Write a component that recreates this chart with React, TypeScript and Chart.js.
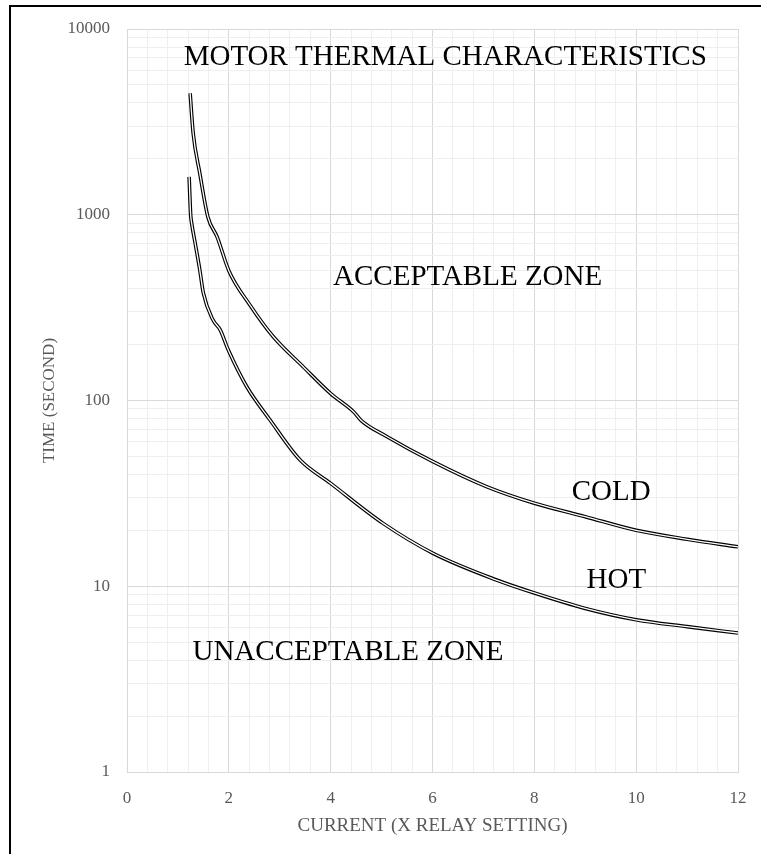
import React, { useEffect, useRef } from 'react';
import { Chart, registerables } from 'chart.js';

Chart.register(...registerables);

const coldCurrent = [1.24, 1.3, 1.43, 1.59, 1.77, 2.0, 2.42, 2.87, 3.46, 4.0, 4.45, 4.6, 5.1, 6.0, 7.06, 8.0, 9.0, 10.0, 11.0, 12.0];
const coldTime = [4500, 2740, 1670, 970, 760, 500, 325, 221, 152, 109, 87, 78, 64, 47, 34.4, 28, 23.7, 20, 17.9, 16.3];

const hotCurrent = [1.22, 1.25, 1.27, 1.34, 1.43, 1.5, 1.69, 1.83, 1.99, 2.35, 2.81, 3.4, 4.0, 5.03, 6.02, 7.26, 8.0, 9.0, 10.0, 11.0, 12.0];
const hotTime = [1600, 1000, 900, 700, 504, 378, 271, 240, 187, 119, 78.5, 47.8, 35.8, 21.8, 15.0, 10.8, 9.2, 7.6, 6.6, 6.06, 5.6];

const xTicks = [0, 0.4, 0.8, 1.2, 1.6, 2, 2.4, 2.8, 3.2, 3.6, 4, 4.4, 4.8, 5.2, 5.6, 6, 6.4, 6.8, 7.2, 7.6, 8, 8.4, 8.8, 9.2, 9.6, 10, 10.4, 10.8, 11.2, 11.6, 12];
const xLabels = [0, 2, 4, 6, 8, 10, 12];
const yTicks = [1, 2, 3, 4, 5, 6, 7, 8, 9, 10, 20, 30, 40, 50, 60, 70, 80, 90, 100, 200, 300, 400, 500, 600, 700, 800, 900, 1000, 2000, 3000, 4000, 5000, 6000, 7000, 8000, 9000, 10000];
const yLabels = [1, 10, 100, 1000, 10000];

const chartTitle = 'MOTOR THERMAL CHARACTERISTICS';
const xTitle = 'CURRENT (X RELAY SETTING)';
const yTitle = 'TIME (SECOND)';
const annotations = [
  { text: chartTitle, x: 6.25, y: 7065 },
  { text: 'ACCEPTABLE ZONE', x: 6.69, y: 462 },
  { text: 'COLD', x: 9.51, y: 32.2 },
  { text: 'HOT', x: 9.61, y: 10.8 },
  { text: 'UNACCEPTABLE ZONE', x: 4.34, y: 4.43 },
];

const SERIF = "'Liberation Serif', 'Times New Roman', serif";
const MAJOR = '#d9d9d9';
const MINOR = '#efefef';

const isXMajor = (v: number) => xLabels.some((l) => Math.abs(l - v) < 1e-6);
const isYMajor = (v: number) => yLabels.some((l) => Math.abs(l - v) < 1e-6);

const textPlugin = {
  id: 'zoneText',
  afterDatasetsDraw(chart: any) {
    const { ctx, scales } = chart;
    ctx.save();
    ctx.font = `29px ${SERIF}`;
    ctx.fillStyle = '#000000';
    ctx.textAlign = 'center';
    ctx.textBaseline = 'middle';
    annotations.forEach((a) => {
      ctx.fillText(a.text, scales.x.getPixelForValue(a.x), scales.y.getPixelForValue(a.y));
    });
    ctx.restore();
  },
};

export default function App() {
  const canvasRef = useRef<HTMLCanvasElement>(null);

  useEffect(() => {
    document.documentElement.style.overflow = 'hidden';
    const cold = coldCurrent.map((x, i) => ({ x, y: coldTime[i] }));
    const hot = hotCurrent.map((x, i) => ({ x, y: hotTime[i] }));
    const lineBase = { pointRadius: 0, pointHoverRadius: 0, fill: false, cubicInterpolationMode: 'monotone' as const };
    const chart = new Chart(canvasRef.current as HTMLCanvasElement, {
      type: 'line',
      data: {
        datasets: [
          { ...lineBase, label: 'COLD', data: cold, borderColor: '#000000', borderWidth: 3.6, order: 2 },
          { ...lineBase, label: 'COLD inner', data: cold, borderColor: '#ffffff', borderWidth: 1.3, order: 1 },
          { ...lineBase, label: 'HOT', data: hot, borderColor: '#000000', borderWidth: 3.6, order: 2 },
          { ...lineBase, label: 'HOT inner', data: hot, borderColor: '#ffffff', borderWidth: 1.3, order: 1 },
        ],
      },
      options: {
        animation: false,
        responsive: false,
        maintainAspectRatio: false,
        layout: { padding: { left: 0, top: 22, right: 23, bottom: 0 } },
        plugins: { legend: { display: false }, tooltip: { enabled: false } },
        scales: {
          x: {
            type: 'linear',
            min: 0,
            max: 12,
            afterBuildTicks: (scale: any) => {
              scale.ticks = xTicks.map((v) => ({ value: v }));
            },
            afterFit: (scale: any) => {
              scale.height = 82;
              scale.paddingLeft = 0;
              scale.paddingRight = 0;
            },
            grid: {
              drawTicks: false,
              color: (ctx: any) => (isXMajor(ctx.tick.value) ? MAJOR : MINOR),
              lineWidth: 1,
            },
            border: { color: MAJOR, width: 1 },
            ticks: {
              autoSkip: false,
              maxRotation: 0,
              padding: 16,
              color: '#595959',
              font: { family: SERIF, size: 17 },
              callback: (v: any) => (isXMajor(Number(v)) ? String(Math.round(Number(v))) : ''),
            },
            title: {
              display: true,
              text: xTitle,
              color: '#595959',
              font: { family: SERIF, size: 19 },
              padding: { top: 0, bottom: 17 },
            },
          },
          y: {
            type: 'logarithmic',
            min: 1,
            max: 10000,
            afterBuildTicks: (scale: any) => {
              scale.ticks = yTicks.map((v) => ({ value: v }));
            },
            afterFit: (scale: any) => {
              scale.width = 116;
              scale.paddingTop = 0;
              scale.paddingBottom = 0;
            },
            grid: {
              drawTicks: false,
              color: (ctx: any) => (isYMajor(ctx.tick.value) ? MAJOR : MINOR),
              lineWidth: 1,
            },
            border: { color: MAJOR, width: 1 },
            ticks: {
              autoSkip: false,
              padding: 17,
              color: '#595959',
              font: { family: SERIF, size: 17 },
              callback: (v: any) => (isYMajor(Number(v)) ? String(Math.round(Number(v))) : ''),
            },
            title: {
              display: true,
              text: yTitle,
              color: '#595959',
              font: { family: SERIF, size: 17 },
              padding: { top: 28, bottom: 0 },
            },
          },
        },
      },
      plugins: [textPlugin],
    });
    return () => chart.destroy();
  }, []);

  return (
    <div
      style={{
        position: 'absolute',
        left: 9,
        top: 5,
        width: 750,
        height: 847,
        borderLeft: '2px solid #000',
        borderTop: '2px solid #000',
        background: '#fff',
      }}
    >
      <canvas ref={canvasRef} width={750} height={847} style={{ display: 'block', width: 750, height: 847 }} />
    </div>
  );
}
